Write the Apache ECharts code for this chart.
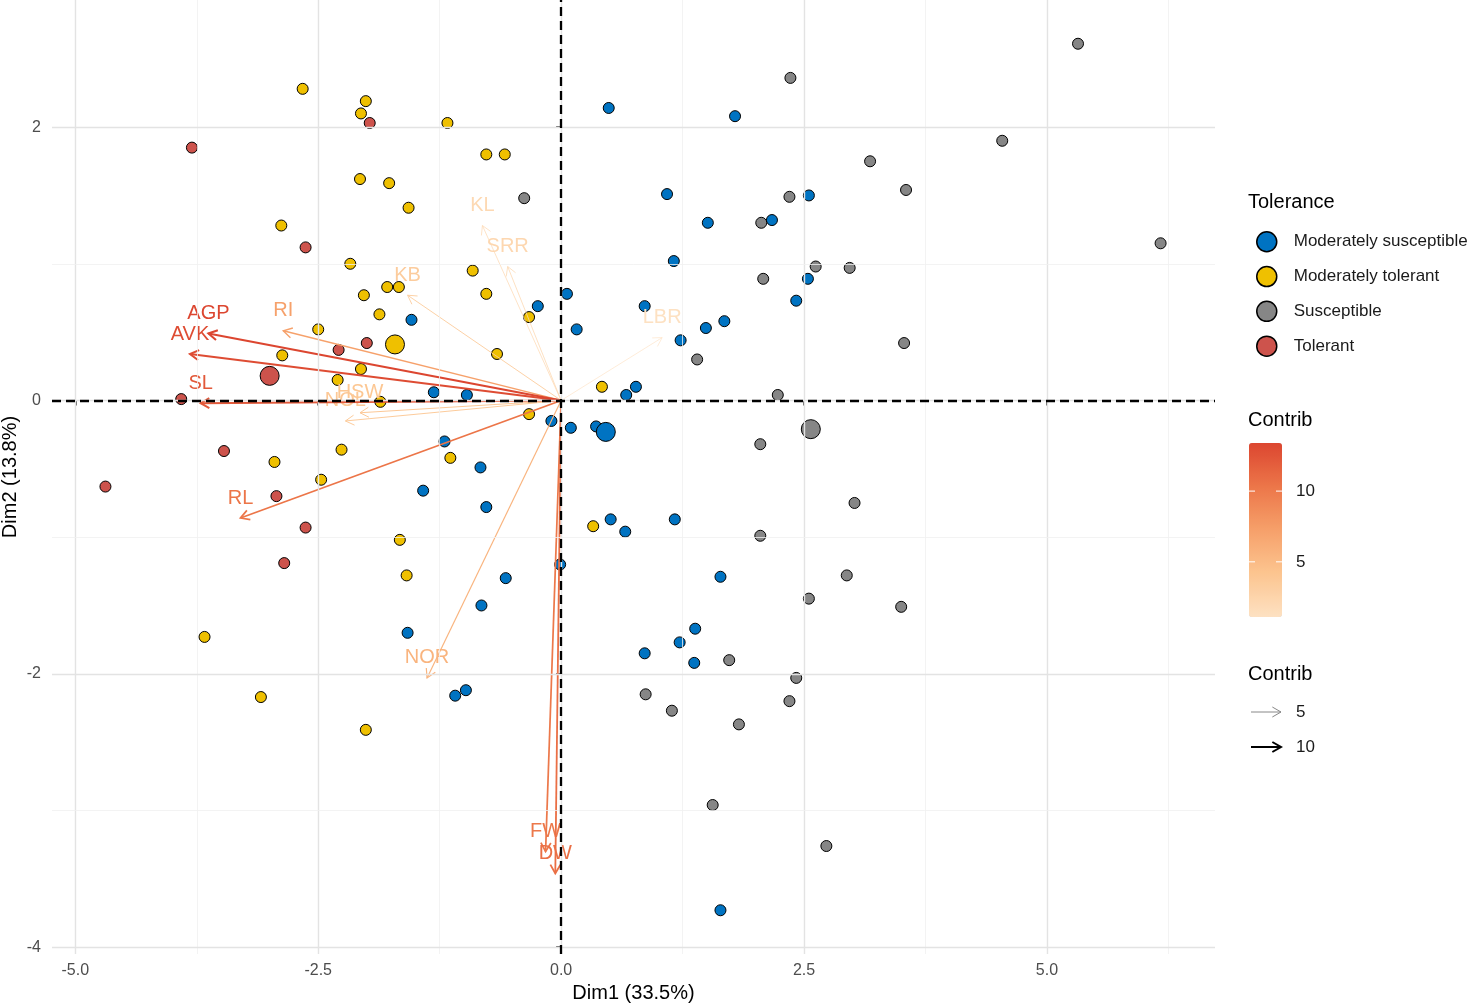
<!DOCTYPE html>
<html>
<head>
<meta charset="utf-8">
<title>PCA biplot</title>
<script src="https://cdn.jsdelivr.net/npm/echarts@6/dist/echarts.min.js"></script>
<style>
  html, body { margin: 0; padding: 0; background: #fff; }
  #chart { width: 1476px; height: 1006px; }
</style>
</head>
<body>
<div id="chart"></div>
<script>
// individuals (Dim1, Dim2) by tolerance class
const modSusceptible = [
  [0.49, 2.14], [1.79, 2.08], [1.09, 1.51], [1.51, 1.30], [2.17, 1.32], [2.55, 1.50],
  [1.16, 1.02], [2.54, 0.89], [2.42, 0.73], [0.06, 0.78], [0.86, 0.69], [0.16, 0.52],
  [1.23, 0.44], [1.49, 0.53], [1.68, 0.58], [0.77, 0.10], [0.67, 0.04], [0.10, -0.20],
  [0.36, -0.19], [-0.24, 0.69], [-1.54, 0.59], [-1.31, 0.06], [-0.97, 0.04], [-0.10, -0.15],
  [-1.20, -0.30], [-0.83, -0.49], [-1.42, -0.66], [-0.77, -0.78], [-0.57, -1.30], [-0.82, -1.50],
  [-1.58, -1.70], [-0.98, -2.12], [-1.09, -2.16], [-0.01, -1.20], [0.51, -0.87], [0.66, -0.96],
  [1.17, -0.87], [1.64, -1.29], [1.38, -1.67], [1.22, -1.77], [0.86, -1.85], [1.37, -1.92],
  [1.64, -3.73]
]
const modTolerant = [
  [-2.66, 2.28], [-2.01, 2.19], [-2.06, 2.10], [-1.17, 2.03], [-0.77, 1.80], [-0.58, 1.80],
  [-2.07, 1.62], [-1.77, 1.59], [-1.57, 1.41], [-2.88, 1.28], [-2.17, 1.00], [-0.91, 0.95],
  [-2.03, 0.77], [-1.79, 0.83], [-1.67, 0.83], [-0.77, 0.78], [-1.87, 0.63], [-2.50, 0.52],
  [-0.33, 0.61], [-0.66, 0.34], [-2.87, 0.33], [-2.06, 0.23], [-2.30, 0.15], [-1.86, -0.01],
  [-0.33, -0.10], [-2.26, -0.36], [-2.95, -0.45], [-1.14, -0.42], [-2.47, -0.58], [-1.66, -1.02],
  [-1.59, -1.28], [-3.67, -1.73], [-3.09, -2.17], [-2.01, -2.41], [0.33, -0.92], [0.42, 0.10]
]
const susceptible = [
  [5.32, 2.61], [2.36, 2.36], [4.54, 1.90], [3.18, 1.75], [3.55, 1.54], [2.35, 1.49],
  [2.06, 1.30], [6.17, 1.15], [2.62, 0.98], [2.97, 0.97], [2.08, 0.89], [3.53, 0.42],
  [1.40, 0.30], [2.23, 0.04], [2.05, -0.32], [3.02, -0.75], [2.05, -0.99], [2.94, -1.28],
  [2.55, -1.45], [3.50, -1.51], [1.73, -1.90], [2.42, -2.03], [0.87, -2.15], [2.35, -2.20],
  [1.14, -2.27], [1.83, -2.37], [1.56, -2.96], [2.73, -3.26], [-0.38, 1.48]
]
const tolerant = [
  [-3.80, 1.85], [-1.97, 2.03], [-2.63, 1.12], [-2.00, 0.42], [-2.29, 0.37], [-3.91, 0.01],
  [-3.47, -0.37], [-4.69, -0.63], [-2.93, -0.70], [-2.63, -0.93], [-2.85, -1.19]
]

// group centres (drawn larger)
const meanModSusceptible = [0.46, -0.23]
const meanModTolerant = [-1.71, 0.41]
const meanSusceptible = [2.57, -0.21]
const meanTolerant = [-3.00, 0.18]

// variables: arrow tips and contribution
const varNames = ['LBR', 'KL', 'SRR', 'KB', 'NOL', 'HSW', 'NOR', 'RI', 'FW', 'RL', 'DW', 'SL', 'AVK', 'AGP']
const varDim1 = [1.04, -0.81, -0.55, -1.58, -2.22, -2.07, -1.38, -2.86, -0.16, -3.30, -0.06, -3.71, -3.82, -3.63]
const varDim2 = [0.46, 1.28, 0.98, 0.77, -0.15, -0.09, -2.03, 0.51, -3.30, -0.86, -3.46, -0.02, 0.34, 0.49]
const varContrib = [1.1, 2.0, 2.2, 3.4, 3.8, 4.0, 5.6, 7.2, 10.2, 10.4, 10.8, 12.2, 13.0, 13.4]

const groupNames = ['Moderately susceptible', 'Moderately tolerant', 'Susceptible', 'Tolerant']
const groupColors = ['#0073C2', '#EFC000', '#868686', '#CD534C']

const xTicks = [-5, -2.5, 0, 2.5, 5]
const yTicks = [-4, -2, 0, 2]
const xMinor = [-3.75, -1.25, 1.25, 3.75, 6.25]
const yMinor = [-3, -1, 1]

const contribRange = [1.1, 13.4]
const contribColors = ['#FDE1C2', '#FCC590', '#F6A06A', '#EC7649', '#DC4630']
const contribTicks = [5, 10]

const FONT = '"Liberation Sans", Arial, sans-serif'

let chart = echarts.init(document.getElementById('chart'))

const groupSeries = (name, pts, mean, color) => {
    return {
        name: name,
        type: 'scatter',
        z: 2,
        symbolSize: 11,
        itemStyle: { color: color, borderColor: '#000', borderWidth: 1, opacity: 1 },
        data: pts.map(p => ({ value: p })).concat([{ value: mean, symbolSize: 19 }])
    }
}

const arrowHead = (tip, ang, len) => {
    let a = Math.PI / 6
    return [
        [tip[0] - len * Math.cos(ang - a), tip[1] - len * Math.sin(ang - a)],
        tip,
        [tip[0] - len * Math.cos(ang + a), tip[1] - len * Math.sin(ang + a)]
    ]
}

const renderArrow = (params, api) => {
    let o = api.coord([0, 0])
    let t = api.coord([api.value(0), api.value(1)])
    let color = api.visual('color')
    let w = 0.5 + api.value(2) * 0.12
    let ang = Math.atan2(t[1] - o[1], t[0] - o[0])
    return {
        type: 'group',
        children: [
            { type: 'line', shape: { x1: o[0], y1: o[1], x2: t[0], y2: t[1] }, style: { stroke: color, lineWidth: w } },
            { type: 'polyline', shape: { points: arrowHead(t, ang, 10) }, style: { stroke: color, lineWidth: w, fill: null } },
            {
                type: 'text', x: t[0], y: t[1] - 20,
                style: { text: varNames[params.dataIndex], fill: color, fontSize: 20, fontFamily: FONT, align: 'center', verticalAlign: 'middle' }
            }
        ]
    }
}

const gridLines = []
xTicks.forEach(v => gridLines.push({ xAxis: v, lineStyle: { color: '#E3E3E3', width: 1.4, type: 'solid' } }))
xMinor.forEach(v => gridLines.push({ xAxis: v, lineStyle: { color: '#F0F0F0', width: 0.8, type: 'solid' } }))
yTicks.forEach(v => gridLines.push({ yAxis: v, lineStyle: { color: '#E3E3E3', width: 1.4, type: 'solid' } }))
yMinor.forEach(v => gridLines.push({ yAxis: v, lineStyle: { color: '#F0F0F0', width: 0.8, type: 'solid' } }))

// legend pieces that echarts has no component for
const barTop = 443, barH = 174, barLeft = 1249, barW = 33
const contribY = v => barTop + barH * (contribRange[1] - v) / (contribRange[1] - contribRange[0])
const graphics = [
    { type: 'text', left: 1248, top: 192, style: { text: 'Tolerance', fontSize: 20, fontFamily: FONT, fill: '#000' } },
    { type: 'text', left: 1248, top: 410, style: { text: 'Contrib', fontSize: 20, fontFamily: FONT, fill: '#000' } },
    { type: 'text', left: 1248, top: 664, style: { text: 'Contrib', fontSize: 20, fontFamily: FONT, fill: '#000' } },
    // y axis title, placed by hand so it is not pushed off the canvas
    { type: 'text', x: 10, y: 477, rotation: Math.PI / 2,
      style: { text: 'Dim2 (13.8%)', fontSize: 20, fontFamily: FONT, fill: '#000', align: 'center', verticalAlign: 'middle' } }
]
contribTicks.forEach(v => {
    let y = contribY(v)
    graphics.push({ type: 'line', z: 100, shape: { x1: barLeft, y1: y, x2: barLeft + 6, y2: y }, style: { stroke: '#fff', lineWidth: 1 } })
    graphics.push({ type: 'line', z: 100, shape: { x1: barLeft + barW - 6, y1: y, x2: barLeft + barW, y2: y }, style: { stroke: '#fff', lineWidth: 1 } })
    graphics.push({ type: 'text', z: 100, x: 1296, y: y, style: { text: String(v), fontSize: 17, fontFamily: FONT, fill: '#1a1a1a', verticalAlign: 'middle' } })
})
const sizeKeys = [[5, 712, '#888888', 1], [10, 747, '#000000', 2]]
sizeKeys.forEach(k => {
    let tip = [1281, k[1]]
    graphics.push({ type: 'line', shape: { x1: 1251, y1: k[1], x2: tip[0], y2: k[1] }, style: { stroke: k[2], lineWidth: k[3] } })
    graphics.push({ type: 'polyline', shape: { points: arrowHead(tip, 0, 10) }, style: { stroke: k[2], lineWidth: k[3], fill: null } })
    graphics.push({ type: 'text', x: 1296, y: k[1], style: { text: String(k[0]), fontSize: 17, fontFamily: FONT, fill: '#1a1a1a', verticalAlign: 'middle' } })
})

let option = {
    animation: false,
    backgroundColor: '#fff',
    grid: { left: 52, right: 261, top: 0, bottom: 52, containLabel: false, outerBoundsMode: 'none' },
    xAxis: {
        type: 'value', min: -5.24, max: 6.73,
        name: 'Dim1 (33.5%)', nameLocation: 'middle', nameGap: 29,
        nameTextStyle: { fontSize: 20, fontFamily: FONT, color: '#000' },
        axisLine: { show: false },
        splitLine: { show: false },
        axisTick: { show: true, customValues: xTicks, length: 5, lineStyle: { color: '#333', width: 1.5 } },
        axisLabel: { customValues: xTicks, formatter: v => v.toFixed(1), fontSize: 16, fontFamily: FONT, color: '#4D4D4D', margin: 9 }
    },
    yAxis: {
        type: 'value', min: -4.05, max: 2.93,
        axisLine: { show: false },
        splitLine: { show: false },
        axisTick: { show: true, customValues: yTicks, length: 5, lineStyle: { color: '#333', width: 1.5 } },
        axisLabel: { customValues: yTicks, formatter: v => String(v), fontSize: 16, fontFamily: FONT, color: '#4D4D4D', margin: 11 }
    },
    legend: {
        data: groupNames,
        orient: 'vertical', left: 1251, top: 226,
        itemWidth: 20, itemHeight: 20, itemGap: 13.3, icon: 'circle',
        itemStyle: { borderColor: '#000', borderWidth: 1.5 },
        textStyle: { fontSize: 17, fontFamily: FONT, color: '#1a1a1a', padding: [0, 0, 0, 12] }
    },
    visualMap: {
        type: 'continuous', min: contribRange[0], max: contribRange[1],
        dimension: 2, seriesIndex: 6,
        orient: 'vertical', left: barLeft, top: barTop, padding: 0,
        itemWidth: barW, itemHeight: barH,
        calculable: false, text: null, hoverLink: false,
        inRange: { color: contribColors }
    },
    graphic: graphics,
    series: [
        { type: 'scatter', z: 1, silent: true, data: [],
          markLine: { silent: true, symbol: 'none', label: { show: false }, data: gridLines } },
        groupSeries(groupNames[0], modSusceptible, meanModSusceptible, groupColors[0]),
        groupSeries(groupNames[1], modTolerant, meanModTolerant, groupColors[1]),
        groupSeries(groupNames[2], susceptible, meanSusceptible, groupColors[2]),
        groupSeries(groupNames[3], tolerant, meanTolerant, groupColors[3]),
        { type: 'scatter', z: 3, silent: true, data: [],
          markLine: { silent: true, symbol: 'none', label: { show: false },
            lineStyle: { color: '#000', width: 2.3, type: [9, 5] },
            data: [{ xAxis: 0 }, { yAxis: 0 }] } },
        {
            type: 'custom', z: 4, silent: true,
            encode: { x: 0, y: 1 },
            data: varDim1.map((x, i) => [x, varDim2[i], varContrib[i]]),
            renderItem: renderArrow
        }
    ]
}
chart.setOption(option)
</script>
</body>
</html>
